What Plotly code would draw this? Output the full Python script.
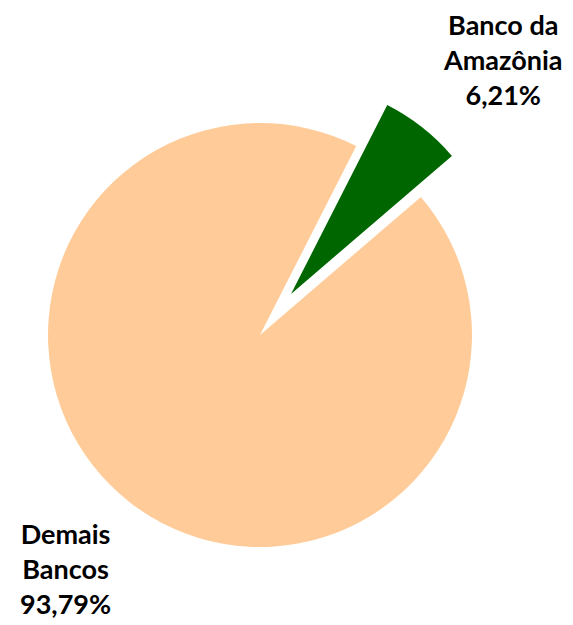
import plotly.graph_objects as go

# slice data
labels = ["Banco da Amazônia", "Demais Bancos"]
label_lines = ["Banco da<br>Amazônia", "Demais<br>Bancos"]
shares = [6.21, 93.79]
share_text = ["6,21%", "93,79%"]

slice_colors = ["#006600", "#FFCC99"]
clear = "rgba(0,0,0,0)"

# the exploded slice is drawn as a second pie whose centre sits where the
# pulled slice's apex is; each trace only shows its own slice
pie_common = dict(
    labels=labels,
    values=shares,
    sort=False,
    direction="clockwise",
    rotation=27,
    textinfo="none",
    hoverinfo="label+percent",
    showlegend=False,
)

fig = go.Figure()
fig.add_trace(go.Pie(
    **pie_common,
    marker=dict(colors=[clear, slice_colors[1]], line=dict(width=0)),
    domain=dict(x=[0.0698, 0.8098], y=[0.1376, 0.816]),
))
fig.add_trace(go.Pie(
    **pie_common,
    marker=dict(colors=[slice_colors[0], clear], line=dict(width=0)),
    domain=dict(x=[0.1239, 0.8639], y=[0.2032, 0.8816]),
))

# labels placed outside the pie, like the original
label_pos = [(0.864, 0.917), (0.0995, 0.104)]
for lines, pct, (px, py) in zip(label_lines, share_text, label_pos):
    fig.add_annotation(
        text=f"<b>{lines}<br>{pct}</b>",
        x=px, y=py, xref="paper", yref="paper",
        xanchor="center", yanchor="middle",
        showarrow=False, align="center",
        font=dict(family="Lato", size=27, color="black"),
    )

fig.update_layout(
    width=573, height=625,
    margin=dict(l=0, r=0, t=0, b=0),
    paper_bgcolor="white",
    plot_bgcolor="white",
)

fig.write_html("out.html")
